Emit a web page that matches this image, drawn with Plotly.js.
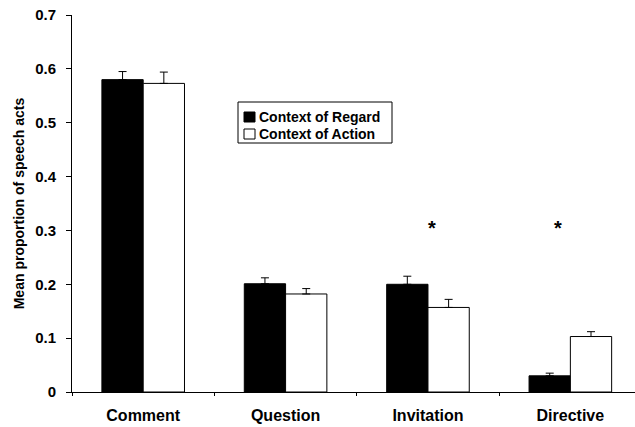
<!DOCTYPE html>
<html>
<head>
<meta charset="utf-8">
<script src="https://cdn.plot.ly/plotly-3.0.1.min.js"></script>
<style>html,body{margin:0;padding:0;background:#fff;}#chart{width:635px;height:427px;}</style>
</head>
<body>
<div id="chart"></div>
<script>
const categories = ["Comment", "Question", "Invitation", "Directive"];
const regardValues = [0.580, 0.201, 0.200, 0.030];
const regardErrors = [0.015, 0.011, 0.015, 0.005];
const actionValues = [0.573, 0.182, 0.157, 0.103];
const actionErrors = [0.021, 0.010, 0.015, 0.009];
const seriesNames = ["Context of Regard", "Context of Action"];
const seriesColors = ["#000000", "#ffffff"];
const significantCategories = ["Invitation", "Directive"];
const significanceMarkY = [0.312, 0.312];
const yTickValues = [0, 0.1, 0.2, 0.3, 0.4, 0.5, 0.6, 0.7];
const yTickLabels = ["0", "0.1", "0.2", "0.3", "0.4", "0.5", "0.6", "0.7"];

const font = "Liberation Sans, Arial, sans-serif";
const zeros = categories.map(() => 0);

const traces = [
  {
    type: "bar", name: seriesNames[0], x: categories, y: regardValues,
    marker: {color: seriesColors[0], line: {color: "#000000", width: 1}},
    error_y: {type: "data", array: regardErrors, arrayminus: zeros, symmetric: false,
              color: "#000000", thickness: 1, width: 4}
  },
  {
    type: "bar", name: seriesNames[1], x: categories, y: actionValues,
    marker: {color: seriesColors[1], line: {color: "#000000", width: 1}},
    error_y: {type: "data", array: actionErrors, arrayminus: zeros, symmetric: false,
              color: "#000000", thickness: 1, width: 4}
  }
];

// plot area in pixels: x 72..635, y 15..392
const W = 563, H = 377, L = 72, B = 392;
const px = v => (v - L) / W;
const py = v => (B - v) / H;

const annotations = significantCategories.map((c, i) => ({
  x: c, y: significanceMarkY[i], xref: "x", yref: "y", text: "<b>*</b>",
  showarrow: false, font: {family: font, size: 20, color: "#000"},
  xshift: i === 0 ? 4 : -12, yshift: -4
}));

// custom legend (compact, as in the reference)
const legendRows = [117, 134];
seriesNames.forEach((n, i) => {
  annotations.push({
    x: px(258), y: py(legendRows[i]), xref: "paper", yref: "paper",
    xanchor: "left", yanchor: "middle", text: "<b>" + n + "</b>", showarrow: false,
    font: {family: font, size: 14, color: "#000"}, borderpad: 0
  });
});
const shapes = [
  {type: "rect", xref: "paper", yref: "paper", x0: px(238), x1: px(392), y0: py(143), y1: py(102),
   line: {color: "#000", width: 1}, fillcolor: "#fff", layer: "above"}
];
seriesNames.forEach((n, i) => {
  const cy = legendRows[i];
  shapes.push({type: "rect", xref: "paper", yref: "paper",
    x0: px(244), x1: px(255), y0: py(cy + 5), y1: py(cy - 5),
    line: {color: "#000", width: 1}, fillcolor: seriesColors[i], layer: "above"});
});

const layout = {
  width: 635, height: 427,
  margin: {l: 72, r: 0, t: 15, b: 35, pad: 0},
  paper_bgcolor: "#ffffff", plot_bgcolor: "#ffffff",
  barmode: "group", bargap: 0.42, bargroupgap: 0,
  showlegend: false,
  xaxis: {
    type: "category", range: [-0.5, 3.454],
    showline: true, linecolor: "#000", linewidth: 1,
    ticks: "outside", tickson: "boundaries", ticklen: 3, tickcolor: "#000",
    tickfont: {family: font, size: 16, color: "#000", weight: "bold"},
    ticklabelstandoff: 9,
    showgrid: false, zeroline: false, fixedrange: true
  },
  yaxis: {
    range: [0, 0.7], tickvals: yTickValues, ticktext: yTickLabels,
    showline: true, linecolor: "#000", linewidth: 1,
    ticks: "outside", ticklen: 5, tickcolor: "#000",
    tickfont: {family: font, size: 15, color: "#000", weight: "bold"},
    ticklabelstandoff: 7,
    showgrid: false, zeroline: false, fixedrange: true,
    title: {text: "Mean proportion of speech acts", standoff: 7,
            font: {family: font, size: 14, color: "#000", weight: "bold"}}
  },
  shapes: shapes,
  annotations: annotations
};

Plotly.newPlot("chart", traces, layout, {displayModeBar: false, staticPlot: true});
</script>
</body>
</html>
